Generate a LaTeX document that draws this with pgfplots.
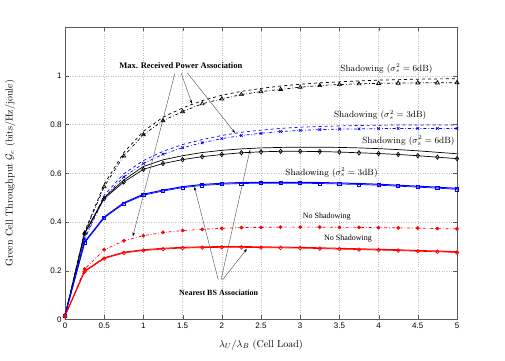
\documentclass[border=0pt]{standalone}
\usepackage{pgfplots}
\pgfplotsset{compat=1.18}
\usepackage{fontspec}
\usetikzlibrary{arrows.meta}
\newfontfamily\timesf{Liberation Serif}
\newfontfamily\sansf{Liberation Sans}
\pgfplotstableread{
x    A     Au    B     Bu    C     Cu    D     Du    E     F     Fu
0    0.015 0.015 0.015 0.015 0.015 0.015 0.015 0.017 0.012 0.014 0.016
0.25 0.355 0.360 0.330 0.335 0.352 0.355 0.314 0.318 0.207 0.196 0.199
0.5  0.545 0.555 0.500 0.510 0.496 0.500 0.417 0.421 0.286 0.250 0.253
0.75 0.671 0.685 0.585 0.598 0.564 0.572 0.475 0.479 0.323 0.273 0.276
1    0.758 0.772 0.640 0.652 0.616 0.628 0.510 0.514 0.344 0.283 0.286
1.25 0.816 0.830 0.678 0.690 0.640 0.655 0.527 0.531 0.357 0.289 0.292
1.5  0.853 0.868 0.705 0.718 0.656 0.672 0.541 0.545 0.365 0.293 0.296
1.75 0.885 0.898 0.725 0.738 0.668 0.685 0.550 0.554 0.370 0.295 0.298
2    0.905 0.920 0.742 0.755 0.677 0.694 0.555 0.559 0.374 0.296 0.299
2.25 0.923 0.936 0.755 0.768 0.684 0.700 0.558 0.562 0.377 0.296 0.299
2.5  0.935 0.948 0.764 0.777 0.688 0.704 0.559 0.563 0.378 0.295 0.298
2.75 0.944 0.958 0.771 0.784 0.690 0.706 0.559 0.563 0.379 0.294 0.297
3    0.953 0.965 0.776 0.789 0.690 0.707 0.559 0.563 0.379 0.293 0.296
3.25 0.960 0.971 0.779 0.792 0.689 0.707 0.558 0.562 0.379 0.291 0.294
3.5  0.964 0.975 0.781 0.794 0.687 0.706 0.556 0.560 0.378 0.289 0.292
3.75 0.967 0.979 0.782 0.796 0.684 0.704 0.554 0.558 0.378 0.287 0.290
4    0.969 0.982 0.783 0.797 0.681 0.701 0.551 0.555 0.377 0.285 0.288
4.25 0.970 0.984 0.784 0.798 0.677 0.697 0.547 0.551 0.376 0.283 0.286
4.5  0.971 0.986 0.784 0.798 0.672 0.692 0.543 0.547 0.375 0.280 0.283
4.75 0.971 0.987 0.784 0.798 0.666 0.686 0.539 0.543 0.373 0.278 0.281
5    0.972 0.988 0.784 0.798 0.660 0.680 0.534 0.538 0.372 0.275 0.278
}\datatab
\begin{document}
\begin{tikzpicture}
\begin{axis}[
  scale only axis, width=392pt, height=292.5pt,
  xmin=0, xmax=5, ymin=0, ymax=1.2,
  xtick={0,0.5,1,1.5,2,2.5,3,3.5,4,4.5,5},
  ytick={0,0.2,0.4,0.6,0.8,1},
  grid=major, grid style={dotted, gray!50},
  axis line style={gray!70!black},
  tick style={gray!70!black},
  tick align=inside,
  /pgf/number format/assume math mode=true,
  tick label style={font=\sansf\footnotesize},
  xlabel={$\lambda_U/\lambda_B$ (Cell Load)},
  ylabel={\addfontfeatures{LetterSpace=9}Green Cell Throughput $\mathcal{G}_c$ (bits/Hz/joule)},
  ylabel style={at={(axis description cs:-0.14,0.5)}, anchor=center},
  xlabel style={at={(axis description cs:0.5,-0.087)}, anchor=center},
  clip=false,
  every axis plot/.append style={line width=0.7pt},
]
% Max RP, 6dB
\addplot[black, dashed, mark=none] table[x=x,y=Au]{\datatab};
\addplot[black, dash dot, mark=triangle, mark size=2.2pt, mark options={solid}] table[x=x,y=A]{\datatab};
% Max RP, 3dB
\addplot[blue, dashed, mark=none] table[x=x,y=Bu]{\datatab};
\addplot[blue, dash dot, mark=x, mark size=1.8pt, mark options={solid}] table[x=x,y=B]{\datatab};
% Nearest, 6dB
\addplot[black, solid, mark=none] table[x=x,y=Cu]{\datatab};
\addplot[black, solid, mark=diamond, mark size=2.2pt] table[x=x,y=C]{\datatab};
% Nearest, 3dB
\addplot[blue, solid, mark=none, line width=1pt] table[x=x,y=Du]{\datatab};
\addplot[blue, solid, mark=square, mark size=1.6pt] table[x=x,y=D]{\datatab};
% Max RP, no shadowing
\addplot[red, dash dot, mark=*, mark size=1.5pt, mark options={solid}] table[x=x,y=E]{\datatab};
% Nearest, no shadowing
\addplot[red, solid, mark=none, line width=1pt] table[x=x,y=Fu]{\datatab};
\addplot[red, solid, mark=o, mark size=1.8pt] table[x=x,y=F]{\datatab};

% annotations
\node[font=\timesf\bfseries\fontsize{8.5}{10}\selectfont] at (axis cs:1.477,1.042) {Max. Received Power Association};
\node[font=\timesf\bfseries\footnotesize] at (axis cs:1.96,0.11) {Nearest BS Association};
\tikzset{ann/.style={gray!60!black, line width=0.4pt, -{Stealth[length=4pt,width=2.5pt,black]}}}
\draw[ann] (axis cs:1.40,1.008) -- (axis cs:0.865,0.341);
\draw[ann] (axis cs:1.48,1.012) -- (axis cs:1.62,0.885);
\draw[ann] (axis cs:1.56,1.012) -- (axis cs:2.17,0.765);
\draw[ann] (axis cs:1.955,0.163) -- (axis cs:1.65,0.545);
\draw[ann] (axis cs:1.99,0.163) -- (axis cs:2.36,0.696);
\draw[ann] (axis cs:2.01,0.163) -- (axis cs:2.32,0.29);

\node[font=\small] at (axis cs:4.1,1.03) {Shadowing ($\sigma_s^2=6$dB)};
\node[font=\small] at (axis cs:4.02,0.838) {Shadowing ($\sigma_s^2=3$dB)};
\node[font=\small] at (axis cs:4.38,0.733) {Shadowing ($\sigma_s^2=6$dB)};
\node[font=\small] at (axis cs:3.4,0.603) {Shadowing ($\sigma_s^2=3$dB)};
\node[font=\timesf\footnotesize] at (axis cs:3.34,0.424) {No Shadowing};
\node[font=\timesf\footnotesize] at (axis cs:3.61,0.331) {No Shadowing};
\end{axis}
\path ([shift={(-65pt,-40.5pt)}]current axis.south west) rectangle ([shift={(48pt,27pt)}]current axis.north east);
\end{tikzpicture}
\end{document}
